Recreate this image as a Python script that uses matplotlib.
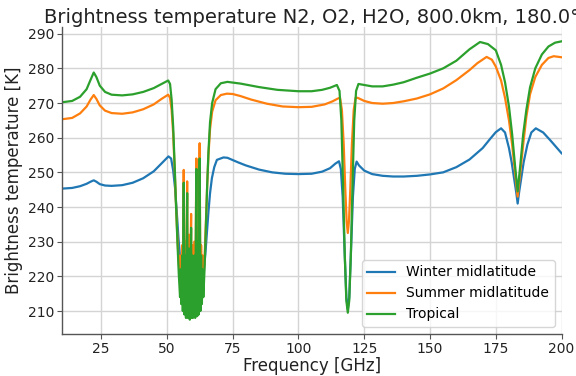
import matplotlib
matplotlib.use("Agg")
import matplotlib.pyplot as plt

title = "Brightness temperature N2, O2, H2O, 800.0km, 180.0°"
labels = ["Winter midlatitude", "Summer midlatitude", "Tropical"]
colors = ["#1f77b4", "#ff7f0e", "#2ca02c"]

# ---------------- Winter midlatitude ----------------
f_winter = [10, 14, 17, 19.5, 21, 22.2, 23.2, 24.5, 26.5, 29, 33, 37, 41, 45, 48,
            50.6, 51.6, 52.4, 53.1, 53.8, 54.4, 55.0, 55.6, 56.5, 57.5, 58.5, 60.0,
            61.5, 62.5, 63.3, 64.0, 64.6, 65.2, 65.8, 66.4, 67.1, 68.0, 69.0, 71.5,
            73, 77, 80, 85, 90, 95, 100, 105, 109, 112, 114, 115.4, 116.1, 116.8,
            117.5, 118.2, 118.75, 119.3, 120.0, 120.7, 121.4, 122.1, 123, 125, 128,
            132, 136, 140, 145, 150, 155, 160, 165, 170, 173, 175, 177, 178.5, 180,
            181, 182, 182.8, 183.3, 183.8, 184.6, 185.6, 187, 188.5, 190.2, 193,
            196, 200]
tb_winter = [245.3, 245.5, 246.0, 246.7, 247.3, 247.7, 247.3, 246.6, 246.2, 246.1,
             246.3, 247.0, 248.3, 250.3, 252.6, 254.6, 254.0, 250.5, 245.5, 238.0,
             231.0, 225.5, 221.5, 216.0, 213.0, 211.5, 211.0, 211.5, 213.5, 217.5,
             221.5, 226.3, 232.5, 238.7, 244.0, 248.3, 251.5, 253.6, 254.3, 254.2,
             252.9, 252.0, 250.8, 250.0, 249.6, 249.5, 249.6, 250.2, 251.2, 252.5,
             253.2, 251.0, 243.0, 228.0, 214.0, 210.5, 214.0, 228.0, 243.0, 251.0,
             253.1, 252.0, 250.5, 249.5, 249.0, 248.8, 248.8, 249.0, 249.4, 250.0,
             251.5, 253.7, 257.0, 259.8, 261.6, 262.7, 261.5, 257.0, 253.0, 248.0,
             244.0, 241.0, 244.0, 248.0, 253.0, 258.0, 261.5, 262.7, 261.5, 259.0,
             255.5]

# ---------------- Summer midlatitude ----------------
f_summer = [10, 14, 17, 19.5, 21, 22.2, 23.2, 24.5, 26.5, 29, 33, 37, 41, 45, 48,
            50.5, 51.2, 51.8, 52.4, 53.0, 53.5, 54.0, 54.5, 55.0, 55.22, 55.45,
            55.8, 56.05, 56.4, 56.65, 56.97, 57.25, 57.7, 57.95, 58.4, 58.7, 59.2,
            59.38, 59.6, 59.9, 60.4, 60.75, 61.2, 61.5, 61.8, 62.1, 62.45, 62.75,
            63.0, 63.3, 63.57, 63.85, 64.3, 64.8, 65.3, 65.8, 66.4, 67.2, 68.5,
            70.5, 72.8, 75, 78, 82, 88, 94, 100, 105, 110, 113, 115, 115.8, 116.5,
            117.2, 117.8, 118.3, 118.75, 119.2, 119.7, 120.3, 121.0, 121.7, 122.5,
            125, 128, 132, 136, 140, 145, 150, 155, 160, 165, 168, 171.5, 173.5,
            175, 177, 178.5, 180, 181.2, 182.3, 183.3, 184.3, 185.4, 186.6, 188,
            190, 192.5, 195, 197, 200]
tb_summer = [265.3, 265.7, 267.0, 269.0, 271.0, 272.3, 271.2, 269.3, 267.8, 267.1,
             266.9, 267.3, 268.2, 269.6, 271.2, 272.4, 271.5, 268.0, 261.0, 250.0,
             240.0, 231.0, 224.0, 219.0, 226.0, 216.0, 229.0, 212.0, 250.7, 210.0,
             230.0, 209.0, 247.4, 208.5, 232.0, 208.0, 238.0, 209.0, 229.0, 208.5,
             230.0, 208.5, 254.0, 209.0, 234.0, 210.0, 258.4, 212.0, 229.0, 215.0,
             226.0, 218.0, 225.0, 235.0, 246.0, 255.0, 262.5, 267.5, 270.8, 272.3,
             272.7, 272.6, 272.0, 271.0, 269.8, 269.0, 268.8, 268.9, 269.6, 270.5,
             271.3, 271.5, 268.0, 258.0, 245.0, 236.0, 232.5, 236.0, 245.0, 258.0,
             268.0, 271.5, 271.5, 270.6, 270.0, 269.8, 270.0, 270.5, 271.3, 272.5,
             274.2, 276.6, 279.5, 281.5, 283.3, 282.5, 280.5, 276.5, 271.5, 265.0,
             258.0, 250.0, 243.0, 250.0, 258.0, 266.0, 272.5, 277.5, 281.0, 283.0,
             283.5, 283.2]

# ---------------- Tropical ----------------
f_tropical = [10, 14, 17, 19.5, 21, 22.2, 23.2, 24.5, 26.5, 29, 33, 37, 41, 45, 48,
              50.5, 51.2, 51.8, 52.4, 53.0, 53.5, 54.0, 54.5, 55.0, 55.22, 55.45,
              55.8, 56.05, 56.4, 56.65, 56.97, 57.25, 57.7, 57.95, 58.4, 58.7, 59.2,
              59.38, 59.6, 59.9, 60.4, 60.75, 61.2, 61.5, 61.8, 62.1, 62.45, 62.75,
              63.0, 63.3, 63.57, 63.85, 64.3, 64.8, 65.3, 65.8, 66.4, 67.2, 68.5,
              70.5, 73, 78, 85, 92, 100, 105, 109, 112, 114.6, 115.6, 116.3, 117.0,
              117.6, 118.2, 118.75, 119.3, 119.9, 120.5, 121.2, 121.9, 122.8, 125,
              128, 132, 136, 140, 145, 150, 155, 160, 165, 169, 172, 175, 177,
              178.5, 180, 181.2, 182.3, 183.3, 184.3, 185.4, 186.6, 188, 190, 192.5,
              195, 197.5, 200]
tb_tropical = [270.2, 270.6, 271.8, 274.0, 276.7, 278.8, 277.5, 275.0, 273.2, 272.4,
               272.2, 272.5, 273.2, 274.3, 275.5, 276.5, 275.5, 271.0, 263.0, 251.0,
               240.0, 230.0, 221.0, 214.0, 222.0, 212.0, 226.0, 210.0, 247.0, 209.0,
               226.0, 208.0, 244.0, 208.0, 228.0, 207.5, 234.0, 208.0, 226.0, 208.0,
               226.0, 208.0, 251.0, 208.5, 230.0, 209.0, 254.0, 210.0, 226.0, 212.0,
               222.0, 214.0, 222.0, 234.0, 246.0, 256.0, 264.5, 270.0, 274.0, 275.7,
               276.1, 275.6, 274.6, 273.8, 273.4, 273.4, 273.8, 274.4, 275.2, 273.5,
               265.0, 245.0, 226.0, 213.0, 209.5, 213.0, 226.0, 245.0, 265.0, 273.5,
               275.5, 275.2, 274.8, 274.8, 275.3, 276.0, 277.3, 278.5, 280.0, 282.2,
               285.5, 287.6, 287.0, 285.2, 281.0, 276.0, 269.0, 261.0, 252.0, 244.5,
               252.0, 261.0, 268.0, 274.5, 280.0, 284.0, 286.3, 287.4, 287.8]

xlim = (10, 200)
ylim = (203.4, 291.8)
xticks = [25, 50, 75, 100, 125, 150, 175, 200]
yticks = [210, 220, 230, 240, 250, 260, 270, 280, 290]

fig = plt.figure(figsize=(5.76, 3.76), dpi=100)
ax = fig.add_axes([0.107, 0.112, 0.868, 0.815])

series = [(f_winter, tb_winter), (f_summer, tb_summer), (f_tropical, tb_tropical)]
for (f, tb), lab, c in zip(series, labels, colors):
    ax.plot(f, tb, color=c, lw=1.6, label=lab)

ax.set_xlim(*xlim)
ax.set_ylim(*ylim)
ax.set_xticks(xticks)
ax.set_yticks(yticks)
ax.grid(True, color="#d4d4d4", lw=1.0)
ax.set_axisbelow(True)
for s in ["top", "right"]:
    ax.spines[s].set_visible(False)
for s in ["left", "bottom"]:
    ax.spines[s].set_color("#555555")
    ax.spines[s].set_linewidth(1.0)
ax.tick_params(axis="both", labelsize=10, color="#555555", length=3.5,
               pad=2, labelcolor="#222222")

ax.set_xlabel("Frequency [GHz]", fontsize=12, color="#222222", labelpad=1)
ax.set_ylabel("Brightness temperature [K]", fontsize=12, color="#222222", labelpad=3)
ax.set_title(title, fontsize=14, color="#222222", pad=3)

leg = ax.legend(loc="lower right", fontsize=10, frameon=True)
leg.get_frame().set_edgecolor("#cccccc")

fig.savefig("out.png", dpi=100)
